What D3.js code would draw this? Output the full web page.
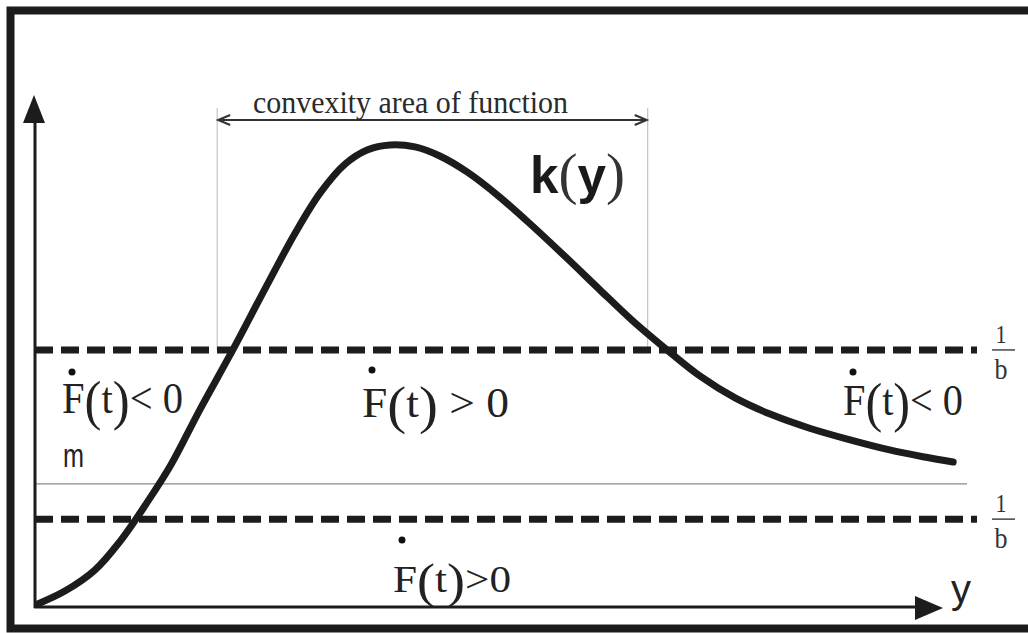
<!DOCTYPE html>
<html>
<head>
<meta charset="utf-8">
<script src="https://cdn.jsdelivr.net/npm/d3@7"></script>
<style>
  body { margin: 0; background: #fff; }
</style>
</head>
<body>
<svg id="chart" width="1028" height="633"></svg>
<script>
// k(y), both axes in 0..10 units
const yValues = [0.03, 0.33, 0.65, 0.92, 1.20, 1.47, 1.79, 2.15, 2.50, 2.83, 3.10, 3.37, 3.61, 3.86, 4.13, 4.40,
                 4.70, 5.05, 5.41, 5.78, 6.14, 6.50, 6.87, 7.23, 7.61, 7.99, 8.42, 8.86, 9.29, 9.67, 9.98];
const kValues = [0.06, 0.32, 0.73, 1.29, 2.02, 2.79, 3.90, 5.09, 6.30, 7.41, 8.20, 8.77, 9.05, 9.15, 9.11, 8.93,
                 8.61, 8.12, 7.54, 6.91, 6.28, 5.66, 5.09, 4.57, 4.14, 3.82, 3.54, 3.31, 3.11, 2.97, 2.87];

// horizontal levels: 1/b (upper, lower) and m
const dashedLevels = [5.09, 1.74];
const mLevel = 2.44;

// convexity area of function (y range)
const convexRange = [1.98, 6.66];

const regionSigns = ["< 0", " > 0", "< 0", ">0"];

const svg = d3.select("#chart");
const ink = "#1c1c1c";
const serif = "Liberation Serif, 'Times New Roman', serif";
const sans = "Liberation Sans, Arial, sans-serif";

let x = d3.scaleLinear().domain([0, 10]).range([35, 955]);
let y = d3.scaleLinear().domain([0, 10]).range([607, 102]);

// frame (right edge is cut off in the original)
svg.append("rect")
    .attr("x", 10.5).attr("y", 10.5)
    .attr("width", 1100).attr("height", 618)
    .attr("fill", "none")
    .attr("stroke", ink)
    .attr("stroke-width", 8);

// thin m line
svg.append("line")
    .attr("x1", x(0)).attr("x2", 967)
    .attr("y1", y(mLevel)).attr("y2", y(mLevel))
    .attr("stroke", "#8a8a8a").attr("stroke-width", 1.3);

// convexity bounds
svg.selectAll("line.bound")
    .data(convexRange)
    .enter().append("line")
    .attr("class", "bound")
    .attr("x1", d => x(d)).attr("x2", d => x(d))
    .attr("y1", 108).attr("y2", y(dashedLevels[0]))
    .attr("stroke", "#b8b8b8").attr("stroke-width", 1);

// double arrow
let ay = 120;
svg.append("line")
    .attr("x1", x(convexRange[0]) + 1).attr("x2", x(convexRange[1]) - 1)
    .attr("y1", ay).attr("y2", ay)
    .attr("stroke", "#333").attr("stroke-width", 2);
[[x(convexRange[0]) + 1, 1], [x(convexRange[1]) - 1, -1]].forEach(([px, s]) => {
    svg.append("path")
        .attr("d", `M${px + s * 12},${ay - 5} L${px},${ay} L${px + s * 12},${ay + 5}`)
        .attr("fill", "none").attr("stroke", "#333").attr("stroke-width", 2);
});

svg.append("text")
    .attr("x", 253).attr("y", 113)
    .attr("font-family", serif).attr("font-size", 31)
    .attr("fill", "#2a2a2a")
    .attr("textLength", 315).attr("lengthAdjust", "spacingAndGlyphs")
    .text("convexity area of function");

// dashed 1/b lines
svg.selectAll("line.level")
    .data(dashedLevels)
    .enter().append("line")
    .attr("class", "level")
    .attr("x1", x(0)).attr("x2", 977)
    .attr("y1", d => y(d)).attr("y2", d => y(d))
    .attr("stroke", ink).attr("stroke-width", 7)
    .attr("stroke-dasharray", "18 8");

// 1/b fractions
dashedLevels.forEach(d => {
    let ly = y(d);
    svg.append("text").attr("x", 1001).attr("y", ly - 7)
        .attr("text-anchor", "middle").attr("font-family", serif)
        .attr("font-size", 26).attr("fill", "#333")
        .attr("textLength", 11).attr("lengthAdjust", "spacingAndGlyphs").text("1");
    svg.append("line").attr("x1", 992).attr("x2", 1015)
        .attr("y1", ly).attr("y2", ly)
        .attr("stroke", "#444").attr("stroke-width", 1.5);
    svg.append("text").attr("x", 1001).attr("y", ly + 29)
        .attr("text-anchor", "middle").attr("font-family", serif)
        .attr("font-size", 30).attr("fill", "#333")
        .attr("textLength", 13).attr("lengthAdjust", "spacingAndGlyphs").text("b");
});

// axes
svg.append("line")
    .attr("x1", x(0)).attr("x2", x(0))
    .attr("y1", y(0) + 1).attr("y2", 118)
    .attr("stroke", ink).attr("stroke-width", 3);
svg.append("path")
    .attr("d", `M${x(0) - 1},95 L${x(0) + 10},123 L${x(0) - 12},123 Z`)
    .attr("fill", ink);

svg.append("line")
    .attr("x1", x(0) - 1).attr("x2", 920)
    .attr("y1", y(0)).attr("y2", y(0))
    .attr("stroke", ink).attr("stroke-width", 3);
svg.append("path")
    .attr("d", `M943,${y(0) + 1} L915,${y(0) - 11} L915,${y(0) + 13} Z`)
    .attr("fill", ink);

svg.append("text")
    .attr("x", 951).attr("y", 603)
    .attr("font-family", sans).attr("font-size", 40)
    .attr("fill", "#222").text("y");

svg.append("text")
    .attr("x", 63).attr("y", 467)
    .attr("font-family", sans).attr("font-size", 33)
    .attr("fill", "#222")
    .attr("textLength", 21).attr("lengthAdjust", "spacingAndGlyphs")
    .text("m");

// the curve
let line = d3.line()
    .x(d => x(d[0]))
    .y(d => y(d[1]))
    .curve(d3.curveCatmullRom.alpha(0.5));

svg.append("path")
    .datum(d3.zip(yValues, kValues))
    .attr("d", line)
    .attr("fill", "none")
    .attr("stroke", ink)
    .attr("stroke-width", 7)
    .attr("stroke-linecap", "round");

// k(y) label
let kl = svg.append("text")
    .attr("x", 530).attr("y", 193)
    .attr("fill", "#1a1a1a")
    .attr("textLength", 95).attr("lengthAdjust", "spacingAndGlyphs");
kl.append("tspan").attr("font-family", sans).attr("font-weight", "bold").attr("font-size", 52).text("k");
kl.append("tspan").attr("font-family", serif).attr("font-size", 58).attr("fill", "#333").text("(");
kl.append("tspan").attr("font-family", sans).attr("font-weight", "bold").attr("font-size", 52).text("y");
kl.append("tspan").attr("font-family", serif).attr("font-size", 58).attr("fill", "#333").text(")");

// F-dot labels
function fLabel(px, base, fs, rel, len, dotDx, dotDy) {
    let t = svg.append("text")
        .attr("x", px).attr("y", base)
        .attr("font-family", serif)
        .attr("font-size", fs)
        .attr("fill", "#222")
        .attr("textLength", len).attr("lengthAdjust", "spacingAndGlyphs");
    t.append("tspan").text("F");
    t.append("tspan").attr("font-size", fs * 1.25).attr("dy", fs * 0.14).text("(");
    t.append("tspan").attr("dy", -fs * 0.14).text("t");
    t.append("tspan").attr("font-size", fs * 1.25).attr("dy", fs * 0.14).text(")");
    t.append("tspan").attr("dy", -fs * 0.14).text(rel);
    svg.append("circle")
        .attr("cx", px + dotDx).attr("cy", base + dotDy)
        .attr("r", 3.5).attr("fill", "#111");
}

fLabel(62, 413, 44, regionSigns[0], 121, 10, -41);
fLabel(362, 417, 42, regionSigns[1], 147, 10, -47);
fLabel(843, 415, 44, regionSigns[2], 120, 10, -43);
fLabel(393, 592, 38, regionSigns[3], 118, 9, -52);
</script>
</body>
</html>
